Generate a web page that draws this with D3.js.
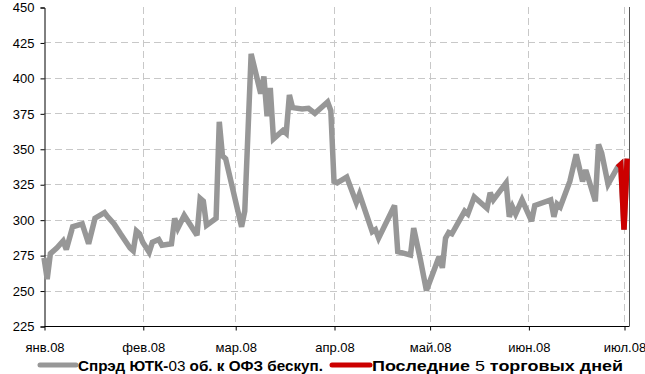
<!DOCTYPE html>
<html><head><meta charset="utf-8">
<script src="https://cdn.jsdelivr.net/npm/d3@7"></script>
<style>
html,body{margin:0;padding:0;background:#fff;}
svg{display:block;}
text{font-family:"Liberation Sans",Arial,sans-serif;fill:#000;}
</style></head>
<body>
<svg id="chart" width="645" height="374"></svg>
<script>
// ---- data ----
const dates = ["2008-01-01","2008-01-02","2008-01-03","2008-01-05","2008-01-07","2008-01-08","2008-01-10","2008-01-13","2008-01-15","2008-01-17","2008-01-20","2008-01-21","2008-01-23","2008-01-25","2008-01-28","2008-01-29","2008-01-30","2008-01-31",
"2008-02-01","2008-02-03","2008-02-04","2008-02-06","2008-02-07","2008-02-10","2008-02-11","2008-02-12","2008-02-14","2008-02-18","2008-02-19","2008-02-20","2008-02-21","2008-02-24","2008-02-25","2008-02-26","2008-02-27",
"2008-03-03","2008-03-04","2008-03-06","2008-03-09","2008-03-10","2008-03-11","2008-03-12","2008-03-13","2008-03-16","2008-03-17","2008-03-18","2008-03-19","2008-03-22","2008-03-24","2008-03-26","2008-03-30","2008-03-31",
"2008-04-01","2008-04-02","2008-04-05","2008-04-08","2008-04-09","2008-04-13","2008-04-14","2008-04-15","2008-04-20","2008-04-21","2008-04-25","2008-04-26","2008-04-28","2008-04-30",
"2008-05-04","2008-05-05","2008-05-06","2008-05-07","2008-05-08","2008-05-12","2008-05-13","2008-05-15","2008-05-19","2008-05-20","2008-05-21","2008-05-25","2008-05-26","2008-05-27","2008-05-28","2008-05-30",
"2008-06-02","2008-06-03","2008-06-08","2008-06-09","2008-06-10","2008-06-11","2008-06-14","2008-06-16","2008-06-18","2008-06-19","2008-06-22","2008-06-23","2008-06-24","2008-06-26","2008-06-29","2008-06-30","2008-07-01","2008-07-02"];
const spread = [273,258,276,280,285,279,295,297,283,301,305,302,297,290,280,278,292,290,
284,277,284,286,282,283,301,294,303,289,315,313,296,301,369,345,343,
295,306,417,389,401,373,393,357,363,361,388,379,378,378.5,375,383,377,
327,326,330,312,318,291.5,293,287,310,277.5,275,294,273,250,
274,266,287,291,290,306,304,316,308,319,314,326,302,309,304,314,
299,310,314,302,311,309,327,346,327,335,313,353,347,325,337,339,293,343];
const lastDaysCount = 4;
const yTicks = [225,250,275,300,325,350,375,400,425,450];
const monthTicks = ["2008-01-01","2008-02-01","2008-03-01","2008-04-01","2008-05-01","2008-06-01","2008-07-01"];
const monthLabels = ["янв.08","фев.08","мар.08","апр.08","май.08","июн.08","июл.08"];
const legendLabels = [["Спрэд ЮТК-","03"," об. к ОФЗ бескуп."],["Последние ","5"," торговых дней"]];

// ---- setup ----
const parse = d3.timeParse("%Y-%m-%d");
const data = dates.map((d,i)=>({date:parse(d), v:spread[i]}));
const last = data.slice(data.length-lastDaysCount);
const svg = d3.select("#chart");
const L=44, R=629, T=7, B=326;
const x = d3.scaleTime().domain([parse("2008-01-01"), parse("2008-07-01")]).range([L, 624]);
const y = d3.scaleLinear().domain([225,450]).range([B,T]);

// grid
const g = svg.append("g");
g.selectAll("line.h").data(yTicks.filter(t=>t>225 && t<450)).enter().append("line")
 .attr("x1",L).attr("x2",R).attr("y1",d=>Math.round(y(d))+0.5).attr("y2",d=>Math.round(y(d))+0.5)
 .attr("stroke","#c8c8c8").attr("stroke-width",1).attr("stroke-dasharray","7,4");
g.selectAll("line.v").data(monthTicks.slice(1)).enter().append("line")
 .attr("x1",d=>Math.round(x(parse(d)))+0.5).attr("x2",d=>Math.round(x(parse(d)))+0.5)
 .attr("y1",T).attr("y2",B)
 .attr("stroke","#c8c8c8").attr("stroke-width",1).attr("stroke-dasharray","7,4");

// right border
svg.append("line").attr("x1",R+0.5).attr("x2",R+0.5).attr("y1",T).attr("y2",B).attr("stroke","#555").attr("stroke-width",1);

// y axis
const yAxis = d3.axisLeft(y).tickValues(yTicks).tickSize(4).tickPadding(6).tickFormat(d3.format("d"));
const ya = svg.append("g").attr("transform",`translate(${L+0.5},0.5)`).call(yAxis);
ya.select(".domain").attr("stroke","#000");
ya.selectAll(".tick line").attr("stroke","#000");
ya.selectAll("text").attr("font-family",'"Liberation Sans",Arial,sans-serif').style("font-size","13px");

// x axis
const xAxis = d3.axisBottom(x).tickValues(monthTicks.map(parse)).tickSize(4).tickPadding(12)
  .tickFormat((d,i)=>monthLabels[i]);
const xa = svg.append("g").attr("transform",`translate(0.5,${B+0.5})`).call(xAxis);
xa.select(".domain").attr("d",`M${L},0H${R}`).attr("stroke","#000");
xa.selectAll(".tick line").attr("stroke","#000");
xa.selectAll("text").style("font-size","13px").attr("font-family",'"Liberation Sans",Arial,sans-serif');

// lines
const line = d3.line().x(d=>x(d.date)).y(d=>y(d.v));
svg.append("path").datum(data).attr("d",line).attr("fill","none")
 .attr("stroke","#979797").attr("stroke-width",5.5).attr("stroke-linejoin","miter").attr("stroke-miterlimit",3);
svg.append("path").datum(last).attr("d",line).attr("fill","none")
 .attr("stroke","#cc0000").attr("stroke-width",5.5).attr("stroke-linejoin","miter").attr("stroke-miterlimit",3);

// legend
const lg = svg.append("g");
const items = [{x1:40,x2:76,tx:78,w:245,c:"#979797",lab:legendLabels[0]},{x1:332,x2:370,tx:372,w:251,c:"#cc0000",lab:legendLabels[1]}];
items.forEach(it=>{
  lg.append("line").attr("x1",it.x1).attr("x2",it.x2).attr("y1",365).attr("y2",365)
   .attr("stroke",it.c).attr("stroke-width",5).attr("stroke-linecap","round");
  const t = lg.append("text").attr("x",it.tx).attr("y",371).style("font-size","15px")
   .attr("textLength",it.w).attr("lengthAdjust","spacingAndGlyphs");
  it.lab.forEach((s,i)=>t.append("tspan").attr("font-weight",i===1?"normal":"bold").text(s));
});
</script>
</body></html>
